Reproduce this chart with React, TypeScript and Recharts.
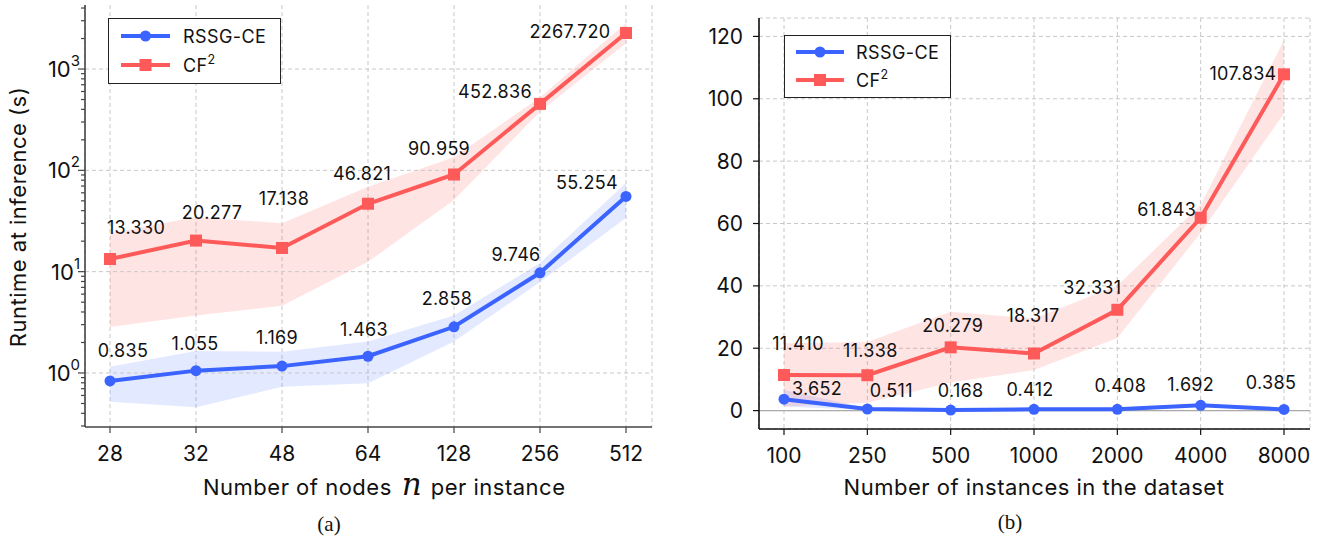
import React from "react";
import {
  ComposedChart,
  Line,
  Area,
  XAxis,
  YAxis,
  CartesianGrid,
  ReferenceLine,
  Legend,
} from "recharts";

// (a) runtime vs. number of nodes per instance
const nodeCounts = ["28", "32", "48", "64", "128", "256", "512"];
const rssgByNodes = [0.835, 1.055, 1.169, 1.463, 2.858, 9.746, 55.254];
const rssgByNodesLow = [0.52, 0.46, 0.73, 0.79, 2.04, 7.9, 34];
const rssgByNodesHigh = [1.15, 1.65, 1.62, 2.04, 3.7, 12.2, 75];
const cf2ByNodes = [13.33, 20.277, 17.138, 46.821, 90.959, 452.836, 2267.72];
const cf2ByNodesLow = [2.85, 3.7, 4.6, 12.5, 51, 380, 1800];
const cf2ByNodesHigh = [24, 34.6, 30, 69, 135, 525, 2850];

// (b) runtime vs. number of instances in the dataset
const instanceCounts = ["100", "250", "500", "1000", "2000", "4000", "8000"];
const rssgByInstances = [3.652, 0.511, 0.168, 0.412, 0.408, 1.692, 0.385];
const rssgByInstancesLow = [1.3, 0.2, 0.0, 0.1, 0.1, 1.2, 0.1];
const rssgByInstancesHigh = [6.6, 0.8, 0.35, 0.7, 0.7, 2.2, 0.7];
const cf2ByInstances = [11.41, 11.338, 20.279, 18.317, 32.331, 61.843, 107.834];
const cf2ByInstancesLow = [1.3, 2.5, 9, 13, 23.3, 57, 95.3];
const cf2ByInstancesHigh = [21.6, 22, 31.7, 29.5, 40, 66, 118.8];

const logMajorTicks = [1, 10, 100, 1000];
const logMinorTicks = [
  0.3, 0.4, 0.5, 0.6, 0.7, 0.8, 0.9,
  2, 3, 4, 5, 6, 7, 8, 9,
  20, 30, 40, 50, 60, 70, 80, 90,
  200, 300, 400, 500, 600, 700, 800, 900,
  2000, 3000, 4000,
];
const linearTicks = [0, 20, 40, 60, 80, 100, 120];

// where each value label sits relative to its point (dx, dy in px)
const labelOffsetsA = {
  rssg: [[13, -30], [-1, -27], [-5, -29], [-4, -27], [-7, -28], [-24, -18], [-39, -14]],
  cf2: [[26, -32], [16, -28], [2, -49], [-6, -30], [-15, -26], [-45, -12], [-56, -2]],
};
const labelOffsetsB = {
  rssg: [[33, -11], [24, -19], [10, -20], [-4, -20], [3, -24], [-10, -21], [-13, -27]],
  cf2: [[14, -32], [3, -25], [2, -22], [-1, -38], [-25, -22], [-34, -8], [-41, -1]],
};

const BLUE = "#3A63FF";
const RED = "#FF5A5A";
const INK = "#111";
const GRID = "#c8c8c8";
const FONT = "Inter, 'Noto Sans', sans-serif";
const SERIF = "'Liberation Serif', serif";

const rowsA = nodeCounts.map((n, i) => ({
  n,
  rssg: rssgByNodes[i],
  rssgBand: [rssgByNodesLow[i], rssgByNodesHigh[i]],
  cf2: cf2ByNodes[i],
  cf2Band: [cf2ByNodesLow[i], cf2ByNodesHigh[i]],
}));

const rowsB = instanceCounts.map((n, i) => ({
  n,
  rssg: rssgByInstances[i],
  rssgBand: [rssgByInstancesLow[i], rssgByInstancesHigh[i]],
  cf2: cf2ByInstances[i],
  cf2Band: [cf2ByInstancesLow[i], cf2ByInstancesHigh[i]],
}));

const SquareDot = (p: any) => {
  if (p.cx == null || p.cy == null) return <g key={p.key} />;
  return <rect key={p.key} x={p.cx - 6} y={p.cy - 6} width={12} height={12} fill={RED} />;
};

const valueLabel = (offsets: number[][]) => (p: any) => {
  const vb = p.viewBox || {};
  const x = p.x ?? vb.x;
  const y = p.y ?? vb.y;
  if (x == null || y == null) return null;
  const [dx, dy] = offsets[p.index] || [0, -25];
  return (
    <text
      key={`lbl-${p.index}`}
      x={x + dx}
      y={y + dy}
      textAnchor="middle"
      dominantBaseline="central"
      fontSize={18}
      letterSpacing={0.3}
      fontFamily={FONT}
      fill={INK}
    >
      {Number(p.value).toFixed(3)}
    </text>
  );
};

const LogTick = (p: any) => {
  const v = p.payload.value;
  const exp = Math.round(Math.log10(v));
  const major = logMajorTicks.includes(v);
  return (
    <g>
      <line x1={p.x} x2={p.x - (major ? 7 : 4)} y1={p.y} y2={p.y} stroke="#444" strokeWidth={1.2} />
      {major && (
        <text x={p.x - 5} y={p.y + 8} textAnchor="end" fontSize={22} fontFamily={FONT} fill={INK}>
          10
          <tspan dy={-11} fontSize={15}>
            {exp}
          </tspan>
        </text>
      )}
    </g>
  );
};

function LegendBox({ w, h, rows, lineX, textX }: any) {
  return (
    <div
      style={{
        width: w,
        height: h,
        boxSizing: "border-box",
        border: "1px solid #222",
        background: "rgba(255,255,255,0.92)",
      }}
    >
      <svg width={w - 2} height={h - 2} style={{ display: "block" }}>
        <line x1={lineX[0]} x2={lineX[1]} y1={rows[0]} y2={rows[0]} stroke={BLUE} strokeWidth={4} />
        <circle cx={(lineX[0] + lineX[1]) / 2} cy={rows[0]} r={5.5} fill={BLUE} />
        <text
          x={textX}
          y={rows[0]}
          dominantBaseline="central"
          fontSize={18}
          letterSpacing={0.4}
          fontFamily={FONT}
          fill={INK}
        >
          RSSG-CE
        </text>
        <line x1={lineX[0]} x2={lineX[1]} y1={rows[1]} y2={rows[1]} stroke={RED} strokeWidth={4} />
        <rect x={(lineX[0] + lineX[1]) / 2 - 6} y={rows[1] - 6} width={12} height={12} fill={RED} />
        <text x={textX} y={rows[1] + 6.5} fontSize={18} letterSpacing={0.4} fontFamily={FONT} fill={INK}>
          CF
          <tspan dy={-8} fontSize={12.5}>
            2
          </tspan>
        </text>
      </svg>
    </div>
  );
}

const tickStyle = { fontSize: 21, fontFamily: FONT, fill: INK };

function PanelA() {
  return (
    <ComposedChart width={680} height={540} data={rowsA} margin={{ top: 5, right: 28, bottom: 73, left: 0 }}>
      <CartesianGrid horizontal={false} stroke={GRID} strokeDasharray="4 3" />
      {logMajorTicks.map((t) => (
        <ReferenceLine key={t} y={t} stroke={GRID} strokeDasharray="4 3" />
      ))}
      <XAxis
        dataKey="n"
        scale="point"
        padding={{ left: 25, right: 26 }}
        height={40}
        tick={tickStyle}
        tickSize={6}
        tickMargin={13}
        axisLine={{ stroke: "#444", strokeWidth: 1.6 }}
        tickLine={{ stroke: "#444", strokeWidth: 1.2 }}
        label={() => (
          <g>
            <text x={203} y={495} fontSize={22} letterSpacing={0.5} fontFamily={FONT} fill={INK}>
              Number of nodes
              <tspan dx={10} fontFamily="'DejaVu Serif', serif" fontStyle="italic" fontSize={31} letterSpacing={0}>
                n
              </tspan>
              <tspan dx={9}>per instance</tspan>
            </text>
            <text x={329} y={531} textAnchor="middle" fontSize={21} fontFamily={SERIF} fill={INK}>
              (a)
            </text>
          </g>
        )}
      />
      <YAxis
        scale="log"
        type="number"
        domain={[0.293, 4285]}
        allowDataOverflow
        ticks={[...logMinorTicks, ...logMajorTicks].sort((a, b) => a - b)}
        interval={0}
        width={85}
        tick={<LogTick />}
        tickSize={0}
        tickMargin={0}
        tickLine={false}
        axisLine={{ stroke: "#444", strokeWidth: 1.6 }}
        label={() => (
          <text
            x={18}
            y={217}
            transform="rotate(-90 18 217)"
            textAnchor="middle"
            dominantBaseline="central"
            fontSize={22}
            letterSpacing={0.5}
            fontFamily={FONT}
            fill={INK}
          >
            Runtime at inference (s)
          </text>
        )}
      />
      <Area dataKey="rssgBand" stroke="none" fill={BLUE} fillOpacity={0.14} isAnimationActive={false} activeDot={false} />
      <Area dataKey="cf2Band" stroke="none" fill={RED} fillOpacity={0.16} isAnimationActive={false} activeDot={false} />
      <Line
        dataKey="rssg"
        stroke={BLUE}
        strokeWidth={4}
        dot={{ r: 5.5, fill: BLUE, stroke: BLUE, strokeWidth: 0 }}
        activeDot={false}
        isAnimationActive={false}
        label={valueLabel(labelOffsetsA.rssg)}
      />
      <Line
        dataKey="cf2"
        stroke={RED}
        strokeWidth={4}
        dot={SquareDot}
        activeDot={false}
        isAnimationActive={false}
        label={valueLabel(labelOffsetsA.cf2)}
      />
      <Legend
        layout="vertical"
        align="center"
        verticalAlign="middle"
        wrapperStyle={{ left: 108, top: 18, width: 173, height: 66 }}
        content={() => <LegendBox w={173} h={66} rows={[17, 46]} lineX={[12, 61]} textX={74} />}
      />
    </ComposedChart>
  );
}

function PanelB() {
  return (
    <ComposedChart width={643} height={540} data={rowsB} margin={{ top: 18, right: 13, bottom: 71, left: 0 }}>
      <CartesianGrid stroke={GRID} strokeDasharray="4 3" />
      <ReferenceLine y={0} stroke="#aaa" strokeWidth={1.2} />
      <XAxis
        dataKey="n"
        scale="point"
        padding={{ left: 25, right: 26 }}
        height={40}
        tick={tickStyle}
        tickSize={6}
        tickMargin={13}
        axisLine={{ stroke: "#111", strokeWidth: 1.6 }}
        tickLine={{ stroke: "#111", strokeWidth: 1.2 }}
        label={() => (
          <g>
            <text
              x={354}
              y={495}
              textAnchor="middle"
              fontSize={22}
              letterSpacing={0.5}
              fontFamily={FONT}
              fill={INK}
            >
              Number of instances in the dataset
            </text>
            <text x={330} y={529} textAnchor="middle" fontSize={21} fontFamily={SERIF} fill={INK}>
              (b)
            </text>
          </g>
        )}
      />
      <YAxis
        type="number"
        domain={[-5.9, 125.9]}
        allowDataOverflow
        ticks={linearTicks}
        interval={0}
        width={79}
        tick={tickStyle}
        tickSize={6}
        tickMargin={10}
        axisLine={{ stroke: "#111", strokeWidth: 1.6 }}
        tickLine={{ stroke: "#111", strokeWidth: 1.2 }}
      />
      <Area dataKey="rssgBand" stroke="none" fill={BLUE} fillOpacity={0.14} isAnimationActive={false} activeDot={false} />
      <Area dataKey="cf2Band" stroke="none" fill={RED} fillOpacity={0.16} isAnimationActive={false} activeDot={false} />
      <Line
        dataKey="rssg"
        stroke={BLUE}
        strokeWidth={4}
        dot={{ r: 5.5, fill: BLUE, stroke: BLUE, strokeWidth: 0 }}
        activeDot={false}
        isAnimationActive={false}
        label={valueLabel(labelOffsetsB.rssg)}
      />
      <Line
        dataKey="cf2"
        stroke={RED}
        strokeWidth={4}
        dot={SquareDot}
        activeDot={false}
        isAnimationActive={false}
        label={valueLabel(labelOffsetsB.cf2)}
      />
      <Legend
        layout="vertical"
        align="center"
        verticalAlign="middle"
        wrapperStyle={{ left: 104, top: 35, width: 167, height: 63 }}
        content={() => <LegendBox w={167} h={63} rows={[16, 44]} lineX={[11, 59]} textX={71} />}
      />
    </ComposedChart>
  );
}

export default function App() {
  return (
    <div style={{ position: "absolute", left: 0, top: 0, width: 1323, height: 540, background: "#fff" }}>
      <div style={{ position: "absolute", left: 0, top: 0 }}>
        <PanelA />
      </div>
      <div style={{ position: "absolute", left: 680, top: 0 }}>
        <PanelB />
      </div>
    </div>
  );
}
